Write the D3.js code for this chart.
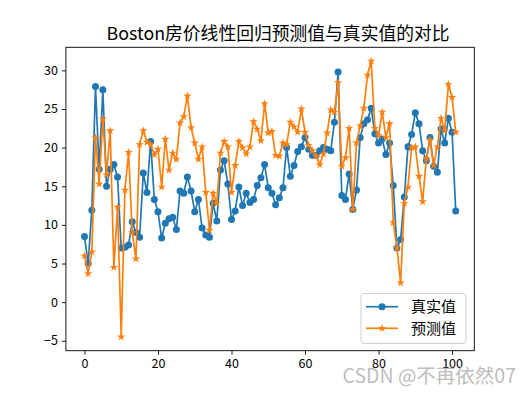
<!DOCTYPE html>
<html>
<head>
<meta charset="utf-8">
<script src="https://cdn.jsdelivr.net/npm/d3@7"></script>
<style>
html,body{margin:0;padding:0;background:#fff;}
svg{display:block;}
text{font-family:"Noto Sans CJK SC","DejaVu Sans",sans-serif;}
</style>
</head>
<body>
<svg id="chart" width="527" height="394"></svg>
<script>
const titleText = "Boston房价线性回归预测值与真实值的对比";
const seriesNames = ["真实值", "预测值"];
const trueValues = [8.5,5.0,11.9,27.9,17.2,27.5,15.0,17.2,17.8,16.2,7.0,7.1,7.4,10.4,9.0,8.4,16.7,14.2,20.8,13.3,11.7,8.3,10.2,10.8,11.0,9.4,14.4,14.1,16.2,14.4,11.7,13.3,9.6,8.7,8.4,12.8,10.5,17.1,18.3,15.3,10.7,11.8,14.9,12.5,14.1,12.9,13.3,15.1,16.1,17.8,14.8,14.1,12.6,13.5,14.8,20.0,16.3,17.7,19.5,20.1,21.3,19.8,19.0,19.0,19.6,20.0,19.8,19.6,23.3,29.8,13.8,13.3,16.6,12.0,14.5,21.3,23.1,23.6,25.1,21.8,20.6,21.1,19.1,20.6,15.1,7.0,8.1,13.6,20.1,21.7,24.5,23.1,19.6,18.3,21.3,17.6,16.8,22.4,20.6,23.8,22.0,11.8];
const predValues = [6.0,3.7,6.5,21.3,15.3,23.7,16.5,22.2,4.5,12.3,-4.5,14.5,19.4,9.0,5.6,20.4,22.2,20.7,20.4,19.1,19.8,14.9,21.1,17.1,19.3,18.5,23.2,24.0,26.7,22.6,20.6,18.5,20.1,14.2,9.3,14.1,12.8,19.3,20.8,20.1,14.2,17.7,20.8,20.0,19.2,20.1,23.4,22.4,20.9,25.7,21.9,22.1,19.0,18.9,20.6,20.4,23.3,22.7,22.0,25.0,22.0,20.3,19.6,18.9,17.8,19.2,21.9,24.9,24.6,28.4,17.6,18.7,22.5,12.0,20.6,22.8,25.1,29.4,31.2,22.5,21.6,24.6,21.3,23.1,10.3,7.1,2.5,12.8,14.9,20.0,20.1,16.3,13.0,18.6,21.0,17.7,20.1,23.8,22.2,28.2,26.5,22.0];
const xTicks = [0,20,40,60,80,100];
const yTicks = [-5,0,5,10,15,20,25,30];
const watermark = "CSDN @不再依然07";

(function () {
const W = 527, H = 394;
const pl = 65.9, pr = 474.3, pt = 47.3, pb = 350.7;
const svg = d3.select("#chart");
const blue = "#1f77b4", orange = "#ff7f0e";

const n = trueValues.length;
const xPad = (n - 1) * 0.05;
const x = d3.scaleLinear().domain([-xPad, n - 1 + xPad]).range([pl, pr]);
const all = trueValues.concat(predValues);
const lo = d3.min(all), hi = d3.max(all), yp = (hi - lo) * 0.05;
const y = d3.scaleLinear().domain([lo - yp, hi + yp]).range([pb, pt]);

svg.append("rect").attr("width", W).attr("height", H).attr("fill", "#fff");

const fmt = d => d < 0 ? "\u2212" + Math.abs(d) : String(d);
const xAxis = svg.append("g").attr("transform", `translate(0,${pb})`)
  .call(d3.axisBottom(x).tickValues(xTicks).tickFormat(fmt).tickSizeOuter(0).tickSizeInner(4).tickPadding(4));
const yAxis = svg.append("g").attr("transform", `translate(${pl},0)`)
  .call(d3.axisLeft(y).tickValues(yTicks).tickFormat(fmt).tickSizeOuter(0).tickSizeInner(4).tickPadding(4));
[xAxis, yAxis].forEach(g => {
  g.select(".domain").remove();
  g.selectAll(".tick line").attr("stroke", "#000").attr("stroke-width", 0.9);
  g.selectAll(".tick text").attr("fill", "#000").style("font-size", "12.5px");
});
xAxis.selectAll(".tick text").attr("dy", "0.75em");

const line = d3.line().x((d, i) => x(i)).y(d => y(d));
const star = d3.symbol().type(d3.symbolStar).size(22);
const plot = svg.append("g");

plot.append("path").datum(trueValues).attr("d", line).attr("fill", "none")
  .attr("stroke", blue).attr("stroke-width", 1.7).attr("stroke-linejoin", "round");
plot.selectAll("circle.t").data(trueValues).join("circle").attr("class", "t")
  .attr("cx", (d, i) => x(i)).attr("cy", d => y(d)).attr("r", 3.5).attr("fill", blue);

plot.append("path").datum(predValues).attr("d", line).attr("fill", "none")
  .attr("stroke", orange).attr("stroke-width", 1.7).attr("stroke-linejoin", "round");
plot.selectAll("path.p").data(predValues).join("path").attr("class", "p")
  .attr("d", star).attr("transform", (d, i) => `translate(${x(i)},${y(d)})`).attr("fill", orange);

svg.append("rect").attr("x", pl).attr("y", pt).attr("width", pr - pl).attr("height", pb - pt)
  .attr("fill", "none").attr("stroke", "#000").attr("stroke-width", 0.9);

svg.append("text").attr("x", (pl + pr) / 2 + 8).attr("y", 40).attr("text-anchor", "middle")
  .style("font-size", "17.8px").attr("fill", "#000").text(titleText);

const lg = svg.append("g");
lg.append("rect").attr("x", 361).attr("y", 293.5).attr("width", 105).attr("height", 50).attr("rx", 3)
  .attr("fill", "#fff").attr("fill-opacity", 0.8).attr("stroke", "#ccc").attr("stroke-width", 0.9);
const ly = [306.7, 328.3];
seriesNames.forEach((name, k) => {
  const c = k === 0 ? blue : orange;
  lg.append("line").attr("x1", 366).attr("x2", 398).attr("y1", ly[k]).attr("y2", ly[k])
    .attr("stroke", c).attr("stroke-width", 1.7);
  if (k === 0) lg.append("circle").attr("cx", 382).attr("cy", ly[k]).attr("r", 3.5).attr("fill", c);
  else lg.append("path").attr("d", star).attr("transform", `translate(382,${ly[k]})`).attr("fill", c);
  lg.append("text").attr("x", 411).attr("y", ly[k]).attr("dy", "0.36em").style("font-size", "15px")
    .attr("fill", "#000").text(name);
});

svg.append("text").attr("x", 516).attr("y", 383).attr("text-anchor", "end")
  .style("font-size", "19.5px").attr("fill", "#b4b4b4").attr("fill-opacity", 0.9).text(watermark);
})();
</script>
</body>
</html>
